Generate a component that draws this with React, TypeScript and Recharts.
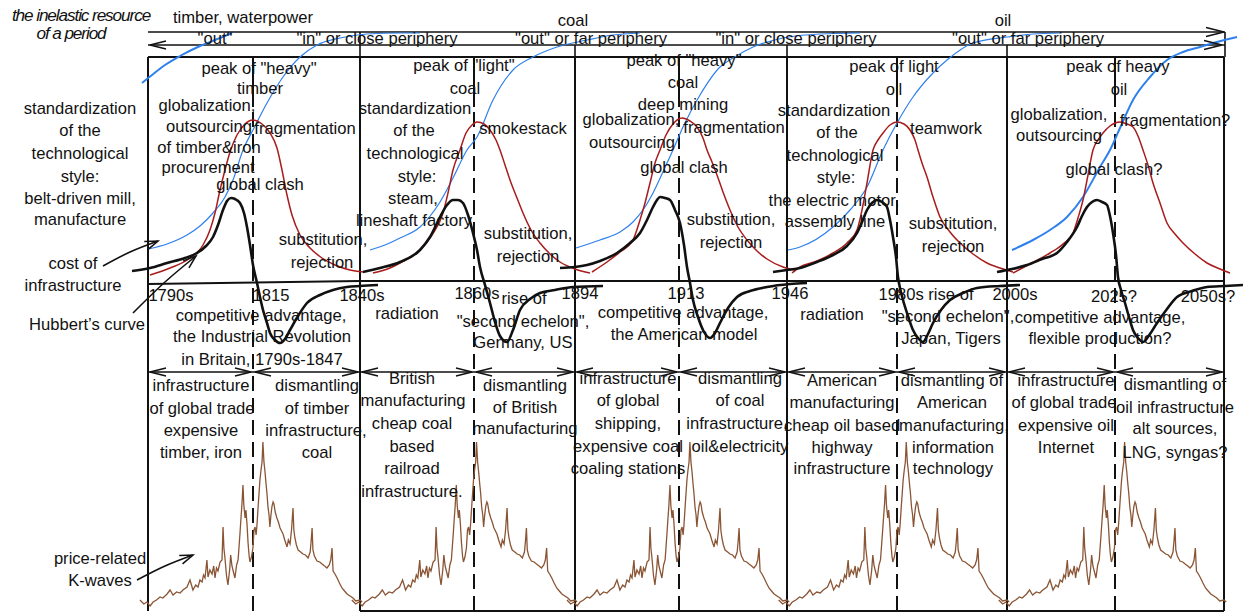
import React from 'react';
import { ComposedChart, Line, XAxis, YAxis, ReferenceLine, ReferenceDot } from 'recharts';

type P = [number, number];
type L = [number, number, string];

// chart units: x = horizontal position (0..1243), y = row from top (0..613)
const periodStarts = [148, 360, 575, 787, 1007];
const periodEnds = [360, 575, 787, 1007, 1224];
const peakLines = [253, 474, 679, 897, 1115];

// blue logistic curves (cost of infrastructure)
const blueTail: P[] = [[142, 83], [152, 75], [165, 65], [180, 56], [200, 46], [220, 38], [232, 33]];
const blue1: P[] = [[148, 249], [167, 244], [187, 235], [200, 226], [213, 213], [225, 197], [233, 180], [243, 150], [253, 130], [267, 103], [283, 77], [300, 57], [317, 45], [340, 38], [367, 34], [400, 33], [420, 33]];
const blue2: P[] = [[370, 250], [385, 245], [400, 238], [420, 227], [440, 202], [453, 178], [467, 150], [477, 137], [493, 100], [513, 70], [533, 57], [557, 47], [587, 40], [613, 35], [640, 33]];
const blue3: P[] = [[576, 248], [600, 240], [620, 232], [633, 222], [645, 207], [653, 193], [667, 163], [673, 150], [683, 127], [700, 95], [720, 67], [733, 58], [753, 47], [783, 38], [820, 34], [860, 33]];
const blue4: P[] = [[788, 250], [800, 247], [833, 227], [850, 210], [867, 187], [883, 150], [897, 123], [913, 97], [933, 73], [947, 60], [973, 43], [1007, 37], [1033, 34], [1060, 33]];
const blue5: P[] = [[1012, 250], [1033, 240], [1050, 230], [1067, 217], [1083, 197], [1100, 167], [1110, 150], [1120, 128], [1133, 100], [1150, 77], [1167, 60], [1183, 52], [1200, 47], [1217, 42], [1237, 37]];

// red bell curves
const red1: P[] = [[150, 275], [170, 268], [190, 258], [203, 245], [210, 230], [215, 213], [220, 190], [225, 170], [230, 152], [237, 135], [245, 124], [253, 120], [262, 124], [270, 133], [277, 148], [282, 170], [287, 195], [292, 215], [300, 235], [310, 248], [322, 258], [335, 265], [350, 270], [363, 272]];
const red2: P[] = [[373, 273], [390, 268], [400, 263], [420, 250], [432, 235], [443, 213], [448, 193], [453, 170], [460, 150], [466, 133], [472, 125], [477, 122], [484, 124], [490, 130], [496, 140], [500, 150], [505, 165], [510, 180], [517, 198], [523, 213], [531, 230], [540, 243], [550, 254], [560, 262], [575, 269], [590, 273]];
const red3: P[] = [[592, 272], [607, 262], [620, 252], [633, 240], [640, 220], [645, 203], [650, 183], [655, 163], [660, 150], [666, 135], [673, 124], [682, 118], [690, 121], [697, 127], [703, 138], [707, 150], [712, 162], [717, 175], [723, 192], [730, 210], [738, 227], [747, 240], [757, 251], [767, 259], [783, 267], [795, 270]];
const red4: P[] = [[792, 273], [800, 267], [817, 261], [833, 253], [847, 243], [857, 230], [862, 210], [867, 183], [873, 150], [878, 140], [883, 133], [890, 125], [897, 122], [904, 124], [910, 130], [915, 140], [918, 150], [922, 163], [927, 177], [933, 197], [940, 217], [950, 232], [960, 243], [973, 254], [987, 263], [1000, 268], [1013, 272]];
const red5: P[] = [[1013, 273], [1030, 264], [1050, 253], [1063, 244], [1073, 233], [1078, 218], [1083, 200], [1088, 175], [1093, 150], [1098, 140], [1103, 133], [1110, 126], [1120, 122], [1127, 124], [1133, 127], [1138, 136], [1143, 150], [1148, 165], [1153, 183], [1160, 203], [1167, 223], [1175, 234], [1183, 243], [1195, 254], [1207, 263], [1220, 269], [1230, 273]];

// black Hubbert curves
const black1: P[] = [[132, 271], [150, 268], [167, 263], [185, 258], [197, 253], [206, 246], [213, 237], [218, 225], [223, 210], [227, 201], [231, 198], [235, 199], [240, 203], [244, 213], [247, 227], [250, 245], [253, 265], [257, 283], [260, 297], [263, 310], [267, 323], [270, 333], [275, 340], [280, 343], [285, 339], [290, 330], [298, 316], [307, 303], [320, 295], [333, 290], [347, 287], [360, 286], [378, 285]];
const black2: P[] = [[363, 272], [380, 268], [400, 262], [420, 250], [430, 237], [440, 217], [447, 205], [453, 200], [458, 200], [463, 203], [468, 215], [473, 233], [477, 250], [480, 267], [485, 285], [490, 303], [495, 322], [500, 336], [507, 342], [513, 330], [520, 310], [530, 299], [540, 293], [555, 290], [573, 287], [603, 286]];
const black3: P[] = [[560, 268], [575, 267], [587, 265], [600, 261], [617, 253], [630, 243], [640, 233], [647, 220], [653, 207], [657, 200], [660, 197], [665, 198], [670, 200], [675, 210], [680, 223], [684, 245], [687, 267], [690, 283], [693, 300], [698, 317], [703, 330], [710, 338], [715, 333], [720, 323], [728, 308], [737, 297], [750, 291], [767, 287], [790, 284], [807, 283]];
const black4: P[] = [[773, 272], [787, 270], [800, 268], [817, 262], [833, 255], [847, 246], [857, 233], [862, 222], [867, 210], [872, 203], [877, 200], [882, 202], [887, 207], [890, 220], [893, 237], [896, 257], [898, 277], [900, 288], [903, 300], [908, 316], [913, 330], [918, 338], [923, 342], [928, 334], [933, 323], [941, 310], [950, 300], [963, 293], [977, 288], [1000, 286], [1020, 285]];
const black5: P[] = [[997, 272], [1012, 269], [1027, 265], [1042, 259], [1057, 253], [1067, 242], [1077, 227], [1082, 216], [1087, 207], [1092, 202], [1097, 200], [1102, 202], [1107, 205], [1110, 216], [1113, 233], [1116, 255], [1118, 277], [1121, 290], [1125, 303], [1129, 317], [1133, 330], [1138, 338], [1143, 342], [1150, 334], [1157, 323], [1167, 309], [1177, 297], [1192, 291], [1207, 287], [1225, 286], [1243, 285]];

// price-related K-wave, one cycle (fraction of period, row), repeated in every period
const priceWave: P[] = [[-0.038, 600], [-0.02, 604], [-0.005, 602], [0.01, 606], [0.024, 602], [0.04, 600], [0.057, 597], [0.07, 598], [0.09, 594], [0.104, 590], [0.118, 595], [0.135, 592], [0.151, 593], [0.165, 590], [0.184, 587], [0.198, 580], [0.212, 590], [0.225, 585], [0.236, 587], [0.245, 580], [0.255, 582], [0.262, 575], [0.269, 578], [0.278, 560], [0.283, 577], [0.292, 570], [0.302, 574], [0.31, 566], [0.316, 578], [0.323, 568], [0.33, 571], [0.34, 562], [0.349, 560], [0.354, 527], [0.358, 548], [0.363, 558], [0.37, 575], [0.377, 585], [0.385, 570], [0.39, 555], [0.396, 566], [0.403, 572], [0.41, 578], [0.418, 565], [0.425, 560], [0.43, 545], [0.434, 533], [0.438, 520], [0.443, 505], [0.448, 485], [0.452, 505], [0.458, 518], [0.462, 510], [0.467, 524], [0.472, 543], [0.477, 556], [0.481, 562], [0.488, 557], [0.495, 548], [0.5, 530], [0.505, 527], [0.51, 535], [0.514, 525], [0.52, 505], [0.528, 480], [0.533, 470], [0.538, 462], [0.542, 442], [0.547, 462], [0.552, 472], [0.556, 482], [0.561, 493], [0.566, 507], [0.571, 515], [0.575, 527], [0.58, 515], [0.585, 506], [0.59, 502], [0.594, 504], [0.6, 512], [0.608, 518], [0.615, 522], [0.623, 528], [0.63, 531], [0.637, 534], [0.645, 540], [0.656, 547], [0.662, 540], [0.67, 544], [0.677, 530], [0.684, 508], [0.688, 530], [0.693, 538], [0.7, 545], [0.708, 550], [0.72, 552], [0.731, 554], [0.743, 555], [0.755, 558], [0.765, 552], [0.77, 540], [0.774, 528], [0.778, 550], [0.785, 556], [0.797, 561], [0.81, 562], [0.821, 564], [0.833, 566], [0.844, 568], [0.855, 565], [0.862, 560], [0.868, 548], [0.873, 571], [0.882, 574], [0.892, 578], [0.903, 583], [0.915, 588], [0.927, 591], [0.939, 594], [0.953, 596], [0.967, 598], [0.98, 601], [1.0, 600], [1.01, 602]];

// pointer arrows on the left
const costArrow: P[] = [[103, 266], [130, 252], [158, 241]];
const hubbertArrow: P[] = [[133, 313], [165, 282], [196, 256]];
const kwaveArrow: P[] = [[137, 580], [165, 566], [193, 555]];

// texts [x, y, text]
const titleLabels: L[] = [[81, 15, 'the inelastic resource'], [71, 33, 'of a period']];
const headerLabels: L[] = [[243, 17, 'timber, waterpower'], [573, 20, 'coal'], [1003, 20, 'oil'], [215, 38, '"out"'], [377, 38, '"in" or close periphery'], [591, 38, '"out" or far periphery'], [796, 38, '"in" or close periphery'], [1028, 38, '"out" or far periphery']];
const leftLabels: L[] = [[80, 108, 'standardization'], [80, 130, 'of the'], [80, 153, 'technological'], [80, 176, 'style:'], [80, 198, 'belt-driven mill,'], [80, 219, 'manufacture'], [73, 263, 'cost of'], [73, 285, 'infrastructure'], [87, 324, 'Hubbert\u2019s curve'], [100, 558, 'price-related'], [100, 580, 'K-waves']];
const period1Labels: L[] = [[259, 68, 'peak of "heavy"'], [260, 88, 'timber'], [207, 105, 'globalization,'], [209, 126, 'outsourcing'], [209, 147, 'of timber&iron'], [208, 167, 'procurement'], [305, 128, 'fragmentation'], [260, 184, 'global clash'], [323, 239, 'substitution,'], [322, 262, 'rejection'], [171, 295, '1790s'], [271, 295, '1815'], [362, 295, '1840s'], [261, 315, 'competitive advantage,'], [262, 336, 'the Industrial Revolution'], [262, 359, 'in Britain, 1790s-1847'], [201, 385, 'infrastructure'], [202, 408, 'of global trade'], [201, 430, 'expensive'], [201, 452, 'timber, iron'], [317, 385, 'dismantling'], [317, 408, 'of timber'], [316, 430, 'infrastructure,'], [317, 452, 'coal']];
const period2Labels: L[] = [[464, 65, 'peak of "light"'], [465, 88, 'coal'], [415, 108, 'standardization'], [414, 130, 'of the'], [415, 153, 'technological'], [417, 176, 'style:'], [413, 198, 'steam,'], [414, 220, 'lineshaft factory'], [523, 128, 'smokestack'], [528, 233, 'substitution,'], [528, 256, 'rejection'], [477, 293, '1860s'], [524, 298, 'rise of'], [580, 293, '1894'], [407, 313, 'radiation'], [523, 321, '"second echelon",'], [523, 342, 'Germany, US'], [412, 378, 'British'], [413, 400, 'manufacturing'], [412, 423, 'cheap coal'], [412, 446, 'based'], [412, 468, 'railroad'], [412, 491, 'infrastructure.'], [525, 385, 'dismantling'], [525, 407, 'of British'], [525, 428, 'manufacturing']];
const period3Labels: L[] = [[684, 60, 'peak of "heavy"'], [683, 82, 'coal'], [683, 104, 'deep mining'], [631, 119, 'globalization,'], [632, 142, 'outsourcing'], [734, 127, 'fragmentation'], [684, 167, 'global clash'], [731, 219, 'substitution,'], [731, 242, 'rejection'], [686, 293, '1913'], [790, 293, '1946'], [683, 312, 'competitive advantage,'], [684, 334, 'the American model'], [628, 378, 'infrastructure'], [628, 400, 'of global'], [628, 423, 'shipping,'], [628, 446, 'expensive coal'], [628, 468, 'coaling stations'], [740, 378, 'dismantling'], [740, 400, 'of coal'], [737, 423, 'infrastructure,'], [740, 446, 'oil&electricity']];
const period4Labels: L[] = [[894, 66, 'peak of light'], [894, 89, 'oil'], [834, 110, 'standardization'], [837, 132, 'of the'], [835, 155, 'technological'], [836, 177, 'style:'], [834, 200, 'the electric motor,'], [835, 221, 'assembly line'], [946, 128, 'teamwork'], [953, 223, 'substitution,'], [953, 246, 'rejection'], [926, 294, '1980s rise of'], [832, 314, 'radiation'], [948, 316, '"second echelon",'], [951, 338, 'Japan, Tigers'], [1015, 294, '2000s'], [842, 380, 'American'], [842, 402, 'manufacturing'], [842, 425, 'cheap oil based'], [842, 447, 'highway'], [842, 468, 'infrastructure'], [952, 380, 'dismantling of'], [952, 402, 'American'], [954, 425, 'manufacturing,'], [953, 447, 'information'], [953, 468, 'technology']];
const period5Labels: L[] = [[1118, 66, 'peak of heavy'], [1119, 89, 'oil'], [1059, 114, 'globalization,'], [1059, 135, 'outsourcing'], [1175, 120, 'fragmentation?'], [1114, 169, 'global clash?'], [1114, 296, '2025?'], [1208, 296, '2050s?'], [1100, 317, 'competitive advantage,'], [1100, 338, 'flexible production?'], [1066, 380, 'infrastructure'], [1064, 402, 'of global trade'], [1066, 425, 'expensive oil'], [1066, 447, 'Internet'], [1175, 384, 'dismantling of'], [1175, 407, 'oil infrastructure'], [1175, 428, 'alt sources,'], [1175, 452, 'LNG, syngas?']];

// structural rows
const rowTop = 32, rowMid = 45, boxTop = 57, axisRow = 281, splitRow = 372, boxBottom = 611;

const BLUE = '#2f80ed';
const RED = '#a81c1c';
const BROWN = '#8a5535';
const INK = '#111';
const FONT = '"Liberation Sans", Arial, Helvetica, sans-serif';

const toData = (pts: P[]) => pts.map(([x, y]) => ({ x, y }));

const head = (tip: P, from: P, len = 14, half = 4.5): P[] => {
  const dx = from[0] - tip[0];
  const dy = from[1] - tip[1];
  const d = Math.hypot(dx, dy) || 1;
  const ux = dx / d, uy = dy / d;
  const nx = -uy, ny = ux;
  return [
    [tip[0] + ux * len + nx * half, tip[1] + uy * len + ny * half],
    tip,
    [tip[0] + ux * len - nx * half, tip[1] + uy * len - ny * half],
  ];
};

const sectionBounds = [148, 253, 360, 474, 575, 679, 787, 897, 1007, 1115, 1224];

export default function App() {
  const curve = (pts: P[], stroke: string, w: number, key: string, type: any = 'monotone', dash?: string) => (
    <Line
      key={key}
      data={toData(pts)}
      dataKey="y"
      type={type}
      stroke={stroke}
      strokeWidth={w}
      strokeDasharray={dash}
      dot={false}
      activeDot={false}
      isAnimationActive={false}
    />
  );

  const seg = (a: P, b: P, key: string, w = 1.6, dash?: string) => (
    <ReferenceLine
      key={key}
      segment={[{ x: a[0], y: a[1] }, { x: b[0], y: b[1] }]}
      stroke={INK}
      strokeWidth={w}
      strokeDasharray={dash}
      ifOverflow="visible"
    />
  );

  const text = (l: L, key: string, italic = false) => (
    <ReferenceDot
      key={key}
      x={l[0]}
      y={l[1]}
      r={0}
      ifOverflow="visible"
      shape={(p: any) => (
        <text
          x={p.cx}
          y={p.cy}
          dy="0.36em"
          textAnchor="middle"
          fontFamily={FONT}
          fontSize={italic ? 17.2 : 16.6}
          fontStyle={italic ? 'italic' : 'normal'}
          letterSpacing={italic ? -1.1 : 0}
          fill={INK}
        >
          {l[2]}
        </text>
      )}
    />
  );

  const priceLines = periodStarts.map((s, i) => {
    const w = periodEnds[i] - s;
    const pts: P[] = priceWave.map(([f, y]) => [s + f * w, y]);
    return curve(pts, BROWN, 1.3, 'price' + i, 'linear');
  });

  const arrowHeads: P[][] = [];
  for (let i = 0; i < sectionBounds.length - 1; i++) {
    const a = sectionBounds[i], b = sectionBounds[i + 1];
    arrowHeads.push(head([a + 2, splitRow], [b, splitRow], 16, 4));
    arrowHeads.push(head([b - 2, splitRow], [a, splitRow], 16, 4));
  }
  arrowHeads.push(head([150, rowMid], [300, rowMid], 16, 4));
  arrowHeads.push(head([1224, rowTop], [1000, rowTop], 18, 4.5));
  arrowHeads.push(head([1222, rowMid], [1000, rowMid], 18, 4.5));
  arrowHeads.push(head(costArrow[2], costArrow[1], 13, 4.5));
  arrowHeads.push(head(hubbertArrow[2], hubbertArrow[1], 13, 4.5));
  arrowHeads.push(head(kwaveArrow[2], kwaveArrow[1], 13, 4.5));

  const allLabels: L[] = [...headerLabels, ...leftLabels, ...period1Labels, ...period2Labels, ...period3Labels, ...period4Labels, ...period5Labels];

  return (
    <div style={{ position: 'absolute', left: 0, top: 0, width: 1243, height: 613, background: '#fff' }}>
      <ComposedChart width={1243} height={613} margin={{ top: 0, right: 0, bottom: 0, left: 0 }}>
        <XAxis type="number" dataKey="x" domain={[0, 1243]} hide allowDataOverflow height={0} />
        <YAxis type="number" domain={[0, 613]} reversed hide allowDataOverflow width={0} />

        {/* frame */}
        {seg([148, rowTop], [1225, rowTop], 'rt')}
        {seg([148, rowMid], [1225, rowMid], 'rm')}
        {seg([148, boxTop], [1224, boxTop], 'bt', 2)}
        {seg([360, rowTop], [360, boxTop], 'tk1')}
        {seg([575, rowMid], [575, boxTop], 'tk2')}
        {seg([787, rowMid], [787, boxTop], 'tk3')}
        {seg([1007, rowMid], [1007, boxTop], 'tk4')}
        {seg([1225, rowTop], [1225, boxTop], 'tk5')}
        {[...periodStarts, 1224].map((x, i) => seg([x, boxTop], [x, boxBottom], 'v' + i, 2))}
        {seg([148, 284], [360, axisRow], 'ax0', 2)}
        {seg([360, axisRow], [1224, axisRow], 'ax1', 2)}
        {seg([148, splitRow], [1224, splitRow], 'sp', 1.6)}
        {seg([360, boxBottom], [1224, boxBottom], 'bb', 2)}
        {peakLines.map((x, i) => seg([x, boxTop], [x, 107], 'pk' + i, 2))}
        {peakLines.map((x, i) => seg([x, 112], [x, boxBottom], 'pd' + i, 2, '15 7'))}

        {/* price K-waves */}
        {priceLines}

        {/* cost of infrastructure */}
        {curve(blueTail, BLUE, 2, 'bt0')}
        {curve(blue1, BLUE, 1.2, 'b1')}
        {curve(blue2, BLUE, 1.2, 'b2')}
        {curve(blue3, BLUE, 1.2, 'b3')}
        {curve(blue4, BLUE, 1.2, 'b4')}
        {curve(blue5, BLUE, 2, 'b5')}

        {curve(red1, RED, 1.5, 'r1')}
        {curve(red2, RED, 1.5, 'r2')}
        {curve(red3, RED, 1.5, 'r3')}
        {curve(red4, RED, 1.5, 'r4')}
        {curve(red5, RED, 1.5, 'r5')}

        {curve(black1, INK, 2.6, 'k1')}
        {curve(black2, INK, 2.6, 'k2')}
        {curve(black3, INK, 2.6, 'k3')}
        {curve(black4, INK, 2.6, 'k4')}
        {curve(black5, INK, 2.6, 'k5')}

        {curve(costArrow, INK, 1.6, 'ca', 'natural')}
        {curve(hubbertArrow, INK, 1.6, 'ha', 'natural')}
        {curve(kwaveArrow, INK, 1.6, 'ka', 'natural')}
        {arrowHeads.map((h, i) => curve(h, INK, 1.5, 'ah' + i, 'linear'))}

        {titleLabels.map((l, i) => text(l, 'tl' + i, true))}
        {allLabels.map((l, i) => text(l, 'lb' + i))}
      </ComposedChart>
    </div>
  );
}
